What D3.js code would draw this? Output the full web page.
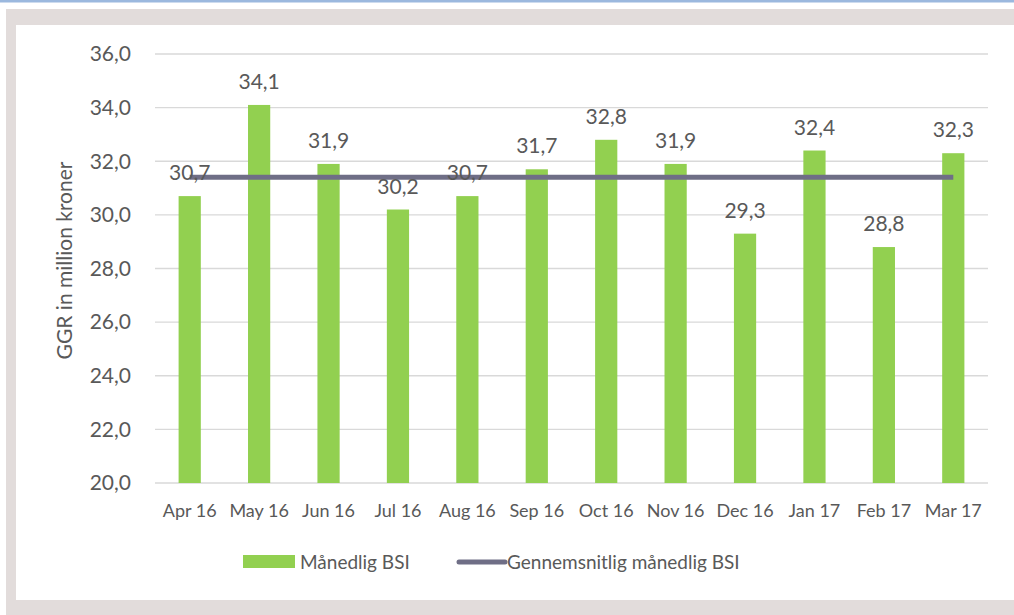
<!DOCTYPE html>
<html>
<head>
<meta charset="utf-8">
<script src="https://cdn.jsdelivr.net/npm/d3@7"></script>
<style>
  body { margin: 0; background: #fff; }
  text { font-family: Lato, "Liberation Sans", sans-serif; fill: #595959; }
</style>
</head>
<body>
<div id="container"></div>
<script>
//Data
var months = ["Apr 16", "May 16", "Jun 16", "Jul 16", "Aug 16", "Sep 16",
              "Oct 16", "Nov 16", "Dec 16", "Jan 17", "Feb 17", "Mar 17"];
var bsi = [30.7, 34.1, 31.9, 30.2, 30.7, 31.7, 32.8, 31.9, 29.3, 32.4, 28.8, 32.3];
var avgBsi = 31.4;
var yTicks = [20, 22, 24, 26, 28, 30, 32, 34, 36];
var seriesNames = ["Månedlig BSI", "Gennemsnitlig månedlig BSI"];

var W = 1014, H = 615;
var fmt = function (v) { return d3.format(".1f")(v).replace(".", ","); };

var svg = d3.select("#container").append("svg")
    .attr("width", W)
    .attr("height", H);

//Frame: blue top rule, grey border, white panel
svg.append("rect").attr("x", 0).attr("y", 0).attr("width", W).attr("height", 2.5).attr("fill", "#9bb8de");
svg.append("rect").attr("x", 6).attr("y", 9).attr("width", W - 6).attr("height", H - 9).attr("fill", "#e2dcdb");
svg.append("rect").attr("x", 16).attr("y", 25).attr("width", W - 16).attr("height", 575).attr("fill", "#fff");

//Scales
var x = d3.scaleBand().domain(months).range([155, 988]).paddingInner(0.68).paddingOuter(0.34);
var y = d3.scaleLinear().domain([20, 36]).range([483, 54]);

//Gridlines
svg.append("g")
    .selectAll("line")
    .data(yTicks)
    .enter().append("line")
    .attr("x1", 155).attr("x2", 988)
    .attr("y1", function (d) { return y(d); })
    .attr("y2", function (d) { return y(d); })
    .attr("stroke", "#d9d9d9")
    .attr("stroke-width", 1.3);

//Y axis labels
svg.append("g")
    .selectAll("text")
    .data(yTicks)
    .enter().append("text")
    .attr("x", 131)
    .attr("y", function (d) { return y(d); })
    .attr("dy", "0.35em")
    .attr("text-anchor", "end")
    .style("font-size", "21px")
    .text(fmt);

//Y axis title
svg.append("text")
    .attr("transform", "translate(72," + y(28.3) + ") rotate(-90)")
    .attr("text-anchor", "middle")
    .style("font-size", "21px")
    .text("GGR in million kroner");

//Bars
svg.append("g")
    .selectAll("rect")
    .data(bsi)
    .enter().append("rect")
    .attr("x", function (d, i) { return x(months[i]); })
    .attr("y", function (d) { return y(d); })
    .attr("width", x.bandwidth())
    .attr("height", function (d) { return y(20) - y(d); })
    .attr("fill", "#92d050");

//Average line
svg.append("line")
    .attr("x1", x(months[0]) + x.bandwidth() / 2)
    .attr("x2", x(months[months.length - 1]) + x.bandwidth() / 2)
    .attr("y1", y(avgBsi)).attr("y2", y(avgBsi))
    .attr("stroke", "#6f6e86")
    .attr("stroke-width", 5);

//Value labels
svg.append("g")
    .selectAll("text")
    .data(bsi)
    .enter().append("text")
    .attr("x", function (d, i) { return x(months[i]) + x.bandwidth() / 2; })
    .attr("y", function (d) { return y(d) - 16; })
    .attr("text-anchor", "middle")
    .style("font-size", "21px")
    .text(fmt);

//X axis labels
svg.append("g")
    .selectAll("text")
    .data(months)
    .enter().append("text")
    .attr("x", function (d) { return x(d) + x.bandwidth() / 2; })
    .attr("y", 517)
    .attr("text-anchor", "middle")
    .style("font-size", "18px")
    .text(function (d) { return d; });

//Legend
var leg = svg.append("g");
leg.append("rect").attr("x", 243).attr("y", 555).attr("width", 52).attr("height", 13).attr("fill", "#92d050");
leg.append("text").attr("x", 300).attr("y", 562).attr("dy", "0.35em").style("font-size", "19px").text(seriesNames[0]);
leg.append("line").attr("x1", 459).attr("x2", 505).attr("y1", 562).attr("y2", 562)
    .attr("stroke", "#6f6e86").attr("stroke-width", 5).attr("stroke-linecap", "round");
leg.append("text").attr("x", 507).attr("y", 562).attr("dy", "0.35em").style("font-size", "19px").text(seriesNames[1]);
</script>
</body>
</html>
